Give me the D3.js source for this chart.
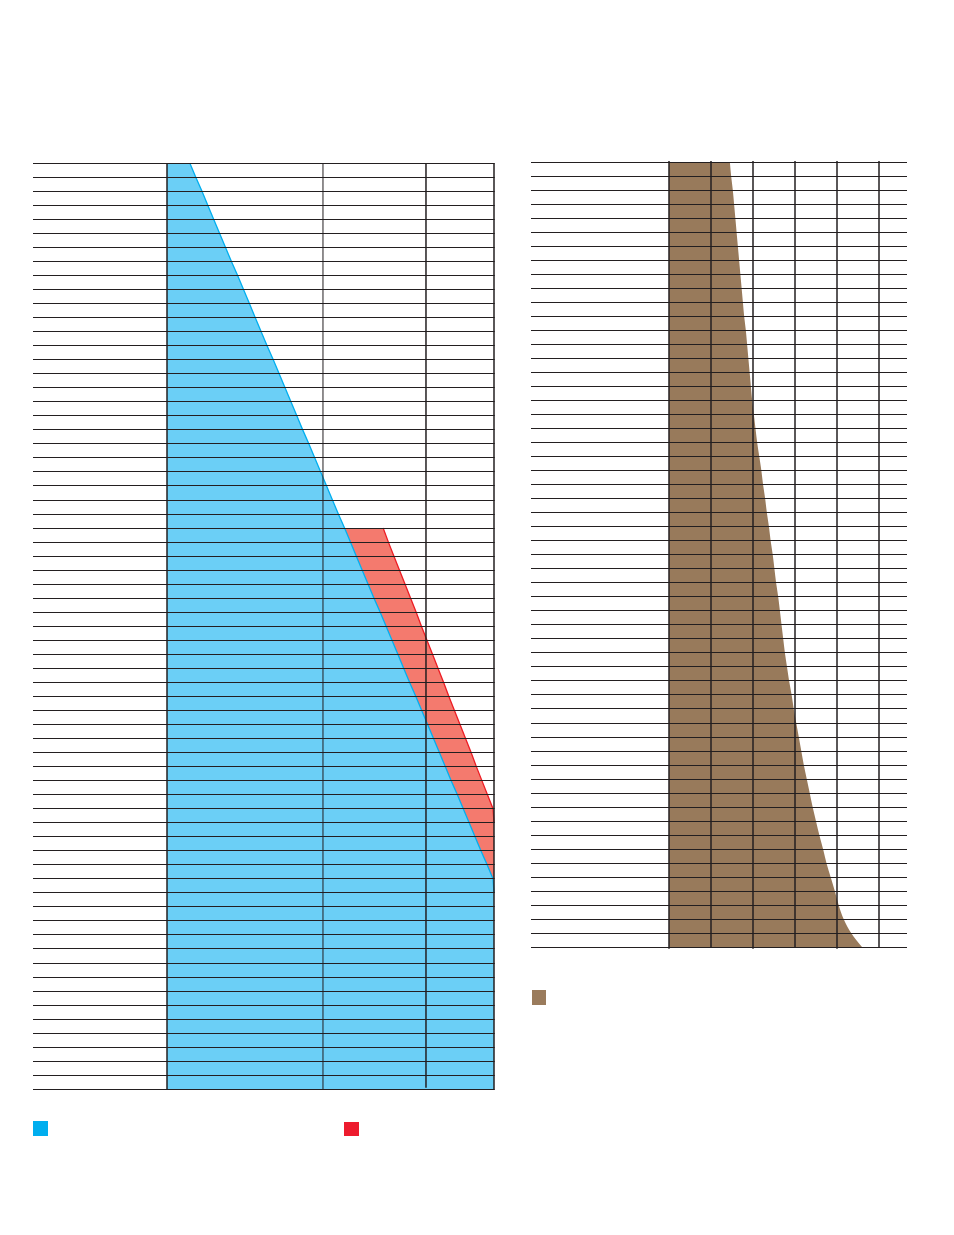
<!DOCTYPE html>
<html>
<head>
<meta charset="utf-8">
<script src="https://cdn.jsdelivr.net/npm/d3@7"></script>
<style>
  html, body { margin: 0; padding: 0; background: #fff; }
  svg { display: block; }
</style>
</head>
<body>
<svg id="chart" width="954" height="1235"></svg>
<script>
// ---------------- DATA ----------------
// Left chart: 66 rows; values at each row boundary (0..66), percent of full width
const leftRowCount = 66;
const blueValues = [
  7.0, 8.8, 10.7, 12.5, 14.3, 16.1, 17.9, 19.7, 21.6, 23.4,
  25.2, 27.0, 28.8, 30.6, 32.5, 34.3, 36.1, 37.9, 39.7, 41.5,
  43.4, 45.2, 47.0, 48.8, 50.6, 52.4, 54.3, 56.1, 57.9, 59.7,
  61.5, 63.3, 65.2, 67.0, 68.8, 70.6, 72.4, 74.2, 76.1, 77.9,
  79.7, 81.5, 83.3, 85.1, 86.9, 88.8, 90.6, 92.4, 94.2, 96.0,
  97.9, 99.7, 100, 100, 100, 100, 100, 100, 100, 100,
  100, 100, 100, 100, 100, 100, 100
];
// Red series: outer edge values, starting at row boundary redStart
const redStart = 26;
const redValues = [
  66.1, 67.7, 69.4, 71.1, 72.8, 74.5, 76.2, 77.8, 79.5, 81.2,
  82.9, 84.6, 86.2, 87.9, 89.6, 91.3, 93.0, 94.6, 96.3, 98.0,
  99.7, 100, 100, 100, 100, 100
];
const leftGridValues = [0, 47.7, 79.2, 100];

// Right chart: 56 rows; values at each row boundary (0..56)
const rightRowCount = 56;
const brownValues = [
  14.5, 14.8, 15.2, 15.5, 15.8, 16.1, 16.4, 16.7, 17.0, 17.3,
  17.6, 17.9, 18.3, 18.6, 18.9, 19.2, 19.5, 19.8, 20.2, 20.6,
  21.0, 21.5, 22.0, 22.4, 22.9, 23.3, 23.8, 24.2, 24.7, 25.1,
  25.5, 26.0, 26.4, 26.8, 27.2, 27.6, 28.1, 28.6, 29.2, 29.7,
  30.3, 30.9, 31.5, 32.1, 32.8, 33.5, 34.2, 35.0, 35.8, 36.7,
  37.5, 38.5, 39.5, 40.4, 41.6, 43.4, 46.0
];
const rightGridValues = [0, 10, 20, 30, 40, 50];

// Legend series
const leftLegend = ["blue", "red"];
const rightLegend = ["brown"];

// ---------------- STYLE ----------------
const C = {
  grid: "#231f20",
  blueFill: "#6bcff6",
  blueLine: "#00aeef",
  redFill: "#f47a6e",
  redLine: "#ed1c24",
  brown: "#987a5b",
  legend: { blue: "#00aeef", red: "#ed1b2e", brown: "#9a7b5c" }
};

const svg = d3.select("#chart");
const crisp = v => Math.round(v - 0.5) + 0.5;

// ---------------- LEFT CHART ----------------
const xL = d3.scaleLinear().domain([0, 100]).range([167, 494]);
const yL = d3.scaleLinear().domain([0, leftRowCount]).range([163.3, 1089.3]);

const gL = svg.append("g");

const bluePts = blueValues.map((v, i) => ({ i, v }));
gL.append("path")
  .datum(bluePts)
  .attr("fill", C.blueFill)
  .attr("d", d3.area().x0(xL(0)).x1(d => xL(d.v)).y(d => yL(d.i)));

const redPts = redValues.map((v, k) => ({ i: redStart + k, v, b: blueValues[redStart + k] }));
gL.append("path")
  .datum(redPts)
  .attr("fill", C.redFill)
  .attr("d", d3.area().x0(d => xL(d.b)).x1(d => xL(d.v)).y(d => yL(d.i)));

// edge lines up to the point where each series first reaches the full width
const untilFull = pts => {
  const k = pts.findIndex(p => p.v >= 100);
  return k < 0 ? pts : pts.slice(0, k + 1);
};
gL.append("path")
  .datum(untilFull(bluePts))
  .attr("fill", "none")
  .attr("stroke", C.blueLine)
  .attr("stroke-width", 1.3)
  .attr("d", d3.line().x(d => xL(d.v)).y(d => yL(d.i)));
gL.append("path")
  .datum(untilFull(redPts))
  .attr("fill", "none")
  .attr("stroke", C.redLine)
  .attr("stroke-width", 1.3)
  .attr("d", d3.line().x(d => xL(d.v)).y(d => yL(d.i)));

// horizontal row lines
gL.append("g").selectAll("line")
  .data(d3.range(leftRowCount + 1))
  .join("line")
  .attr("x1", 33).attr("x2", xL(100) + 0.7)
  .attr("y1", d => crisp(yL(d))).attr("y2", d => crisp(yL(d)))
  .attr("stroke", C.grid).attr("stroke-width", 1);

// vertical grid lines
gL.append("g").selectAll("line")
  .data(leftGridValues)
  .join("line")
  .attr("x1", d => xL(d)).attr("x2", d => xL(d))
  .attr("y1", yL(0)).attr("y2", d => d === 79.2 ? yL(leftRowCount) - 1.5 : yL(leftRowCount) + 0.5)
  .attr("stroke", C.grid)
  .attr("stroke-width", d => (d === 47.7 ? 1 : 1.5));

// legend
gL.append("g").selectAll("rect")
  .data(leftLegend)
  .join("rect")
  .attr("x", (d, i) => [33, 344][i])
  .attr("y", (d, i) => [1121, 1122][i])
  .attr("width", 15)
  .attr("height", (d, i) => [15, 14][i])
  .attr("fill", d => C.legend[d]);

// ---------------- RIGHT CHART ----------------
const xR = d3.scaleLinear().domain([0, 50]).range([669, 879]);
const yR = d3.scaleLinear().domain([0, rightRowCount]).range([162.3, 947.3]);

const gR = svg.append("g");

gR.append("path")
  .datum(brownValues.map((v, i) => ({ i, v })))
  .attr("fill", C.brown)
  .attr("d", d3.area().curve(d3.curveMonotoneY)
    .x0(xR(0)).x1(d => xR(d.v)).y(d => yR(d.i)));

gR.append("g").selectAll("line")
  .data(d3.range(rightRowCount + 1))
  .join("line")
  .attr("x1", 531).attr("x2", 907)
  .attr("y1", d => crisp(yR(d))).attr("y2", d => crisp(yR(d)))
  .attr("stroke", C.grid).attr("stroke-width", 1);

gR.append("g").selectAll("line")
  .data(rightGridValues)
  .join("line")
  .attr("x1", d => xR(d)).attr("x2", d => xR(d))
  .attr("y1", yR(0) - 1.3).attr("y2", (d, i) => yR(rightRowCount) + (i % 2 === 0 ? 1.5 : 0.5))
  .attr("stroke", C.grid)
  .attr("stroke-width", 1.5);

gR.append("g").selectAll("rect")
  .data(rightLegend)
  .join("rect")
  .attr("x", 532).attr("y", 990)
  .attr("width", 14).attr("height", 15)
  .attr("fill", d => C.legend[d]);
</script>
</body>
</html>
